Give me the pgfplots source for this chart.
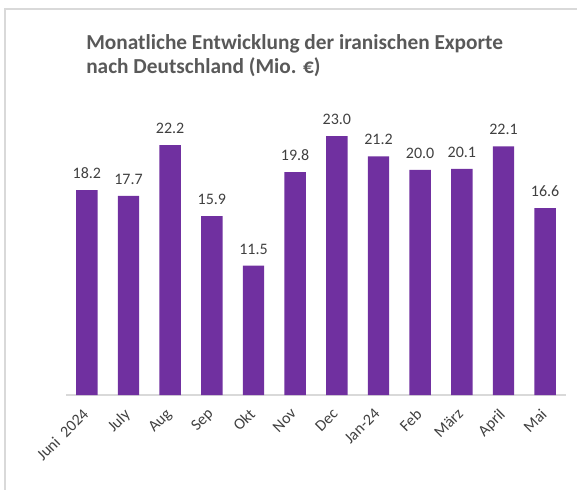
\documentclass[border=0pt]{standalone}
\usepackage{pgfplots}
\pgfplotsset{compat=1.18}
\usepackage{fontspec}
\setmainfont{Carlito}
\definecolor{barpurple}{HTML}{7030A0}
\definecolor{txtgray}{HTML}{404040}
\definecolor{titlegray}{HTML}{595959}
\definecolor{framegray}{HTML}{D9D9D9}
\begin{document}
\begin{tikzpicture}[x=0.75pt,y=0.75pt]
\useasboundingbox (0,0) rectangle (577,489);
\draw[framegray, line width=0.9pt] (5,-10) -- (5,480) -- (600,480);
\node[anchor=base west, align=left, font=\fontsize{16pt}{18.5pt}\selectfont\bfseries, text=titlegray, inner sep=0pt] at (86,415) {Monatliche Entwicklung der iranischen Exporte\\nach Deutschland (Mio. €)};
\begin{axis}[
  at={(49.5pt,70.5pt)}, anchor=south west,
  scale only axis, width=375pt, height=211pt,
  xmin=-0.5, xmax=11.5, ymin=0, ymax=25,
  axis x line*=bottom, axis y line=none,
  x axis line style={draw=framegray, line width=1.5pt, -},
  xtick=data, xtick style={draw=none},
  xticklabels={Juni\ \ 2024,July,Aug,Sep,Okt,Nov,Dec,Jan-24,Feb,März,April,Mai},
  xticklabel style={xshift=-4pt, yshift=-3.5pt, rotate=45, anchor=north east, font=\fontsize{12pt}{14pt}\selectfont, text=txtgray, inner sep=1pt},
  ybar, bar width=16.1pt,
  nodes near coords,
  nodes near coords style={font=\fontsize{12pt}{14pt}\selectfont, text=txtgray, yshift=5pt},
  /pgf/number format/fixed, /pgf/number format/fixed zerofill, /pgf/number format/precision=1, /pgf/number format/assume math mode=true,
  clip=false,
]
\addplot[fill=barpurple, draw=none] coordinates {(0,18.2) (1,17.7) (2,22.2) (3,15.9) (4,11.5) (5,19.8) (6,23.0) (7,21.2) (8,20.0) (9,20.1) (10,22.1) (11,16.6)};
\end{axis}
\end{tikzpicture}
\end{document}
